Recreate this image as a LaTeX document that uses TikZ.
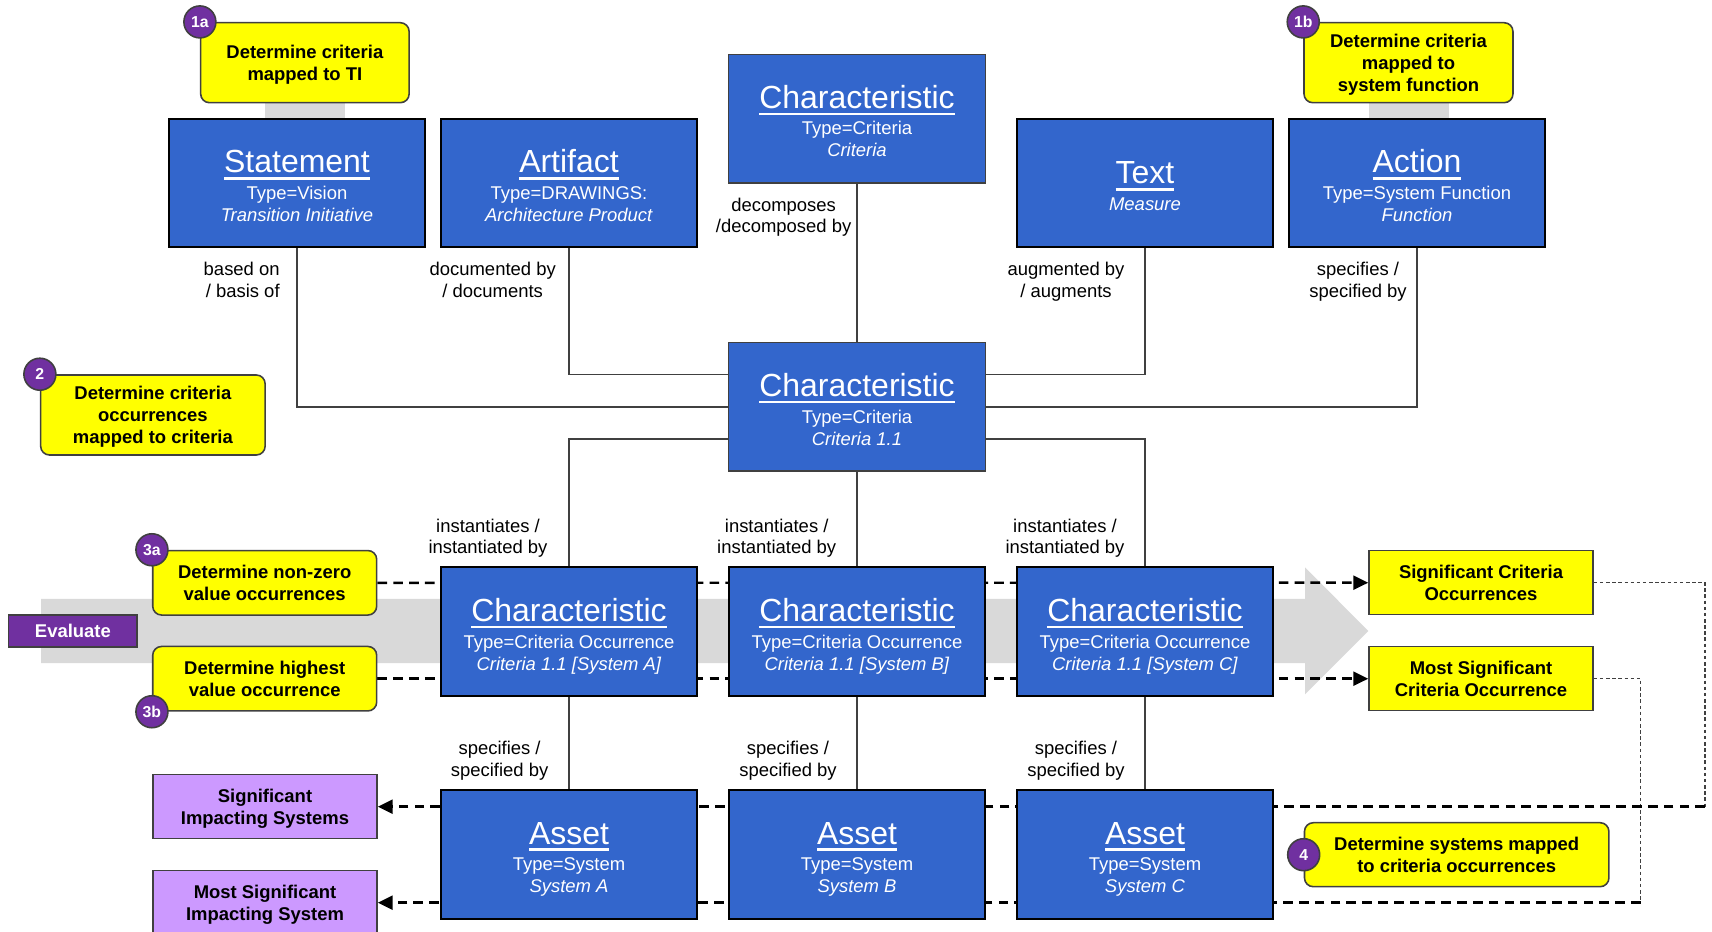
\documentclass[tikz,border=0pt]{standalone}
\usepackage{fontspec}
\setmainfont{Liberation Sans}
\usepackage{tikz}
\usetikzlibrary{calc,arrows.meta,backgrounds}

\definecolor{entblue}{HTML}{3366CC}
\definecolor{noteyellow}{HTML}{FFFF00}
\definecolor{stepviolet}{HTML}{7030A0}
\definecolor{sysviolet}{HTML}{CC99FF}
\definecolor{bandgrey}{HTML}{D9D9D9}
\definecolor{linegrey}{HTML}{404040}

\newcommand{\titleline}[1]{\setbox0=\hbox{#1}\rlap{\vrule width\wd0 height-2.4pt depth3.9pt}\box0}
\newcommand{\enttitle}[1]{{\fontsize{18.2}{20}\selectfont\rule{0pt}{16pt}\titleline{#1}}}
\newcommand{\enttext}[3]{\enttitle{#1}\\[2.6pt]#2\\\textit{#3}}

\tikzset{
  entity/.style={draw=black, line width=1.1pt, fill=entblue, text=white, minimum width=5.13cm, minimum height=2.57cm, align=center, inner sep=0pt, text depth=0pt, font=\fontsize{10.5}{12.5}\selectfont},
  critbox/.style={entity, draw=linegrey, line width=0.8pt},
  note/.style={draw=linegrey, line width=0.9pt, fill=noteyellow, rounded corners=5pt, align=center, inner sep=0pt, text depth=0pt, font=\fontsize{10.5}{12.5}\selectfont\bfseries},
  badge/.style={circle, draw=linegrey, line width=0.9pt, fill=stepviolet, text=white, minimum size=0.64cm, inner sep=0pt, font=\fontsize{9}{10}\selectfont\bfseries},
  result/.style={draw=linegrey, line width=0.9pt, fill=noteyellow, minimum width=4.48cm, minimum height=1.28cm, align=center, inner sep=0pt, text depth=0pt, font=\fontsize{10.5}{12.5}\selectfont\bfseries},
  impact/.style={result, fill=sysviolet},
  evalbox/.style={draw=linegrey, line width=0.9pt, fill=stepviolet, text=white, minimum width=2.57cm, minimum height=0.64cm, inner sep=0pt, font=\fontsize{10.5}{12.5}\selectfont\bfseries},
  rel/.style={align=center, inner sep=0pt, font=\fontsize{10.5}{12.5}\selectfont},
  link/.style={draw=linegrey, line width=0.85pt},
  flow/.style={draw=black, line width=1.4pt, dash pattern=on 5.5pt off 3.5pt},
  flowarrow/.style={flow, -{Triangle[length=8.5pt,width=8pt]}},
  trace/.style={draw=linegrey, line width=0.6pt, dash pattern=on 2pt off 1.5pt}
}

\begin{document}
\begin{tikzpicture}[x=0.02cm, y=-0.02cm]
    \useasboundingbox (0,0) rectangle (1712,932);

    % Upper entities
    \node [entity] (stmt) at (297,183) {\enttext{Statement}{Type=Vision}{Transition Initiative}};
    \node [entity] (artifact) at (569,183) {\enttext{Artifact}{Type=DRAWINGS:}{Architecture Product}};
    \node [critbox] (critop) at (857,118.6) {\enttext{Characteristic}{Type=Criteria}{Criteria}};
    \node [entity] (text) at (1145,183) {\enttitle{Text}\\[2.6pt]\textit{Measure}};
    \node [entity] (action) at (1417,183) {\enttext{Action}{Type=System Function}{Function}};

    % Criteria
    \node [critbox] (crit) at (857,406.8) {\enttext{Characteristic}{Type=Criteria}{Criteria 1.1}};

    % Occurrences
    \node [entity] (occA) at (569,631.7) {\enttext{Characteristic}{Type=Criteria Occurrence}{Criteria 1.1 [System A]}};
    \node [entity] (occB) at (857,631.7) {\enttext{Characteristic}{Type=Criteria Occurrence}{Criteria 1.1 [System B]}};
    \node [entity] (occC) at (1145,631.7) {\enttext{Characteristic}{Type=Criteria Occurrence}{Criteria 1.1 [System C]}};

    % Assets
    \node [entity] (assetA) at (569,854.3) {\enttext{Asset}{Type=System}{System A}};
    \node [entity] (assetB) at (857,854.3) {\enttext{Asset}{Type=System}{System B}};
    \node [entity] (assetC) at (1145,854.3) {\enttext{Asset}{Type=System}{System C}};

    % Relation labels
    \node [rel, align=right, anchor=north east] (lbased) at (280,262) {based on\\/ basis of};
    \node [rel, anchor=north] (ldoc) at (492.7,262) {documented by\\/ documents};
    \node [rel, anchor=north] (ldecomp) at (783.6,197.3) {decomposes\\/decomposed by};
    \node [rel, anchor=north] (laug) at (1066,262) {augmented by\\/ augments};
    \node [rel, anchor=north] (lspec) at (1358,262) {specifies /\\specified by};
    \node [rel, anchor=north] (linstA) at (488,518.3) {instantiates /\\instantiated by};
    \node [rel, anchor=north] (linstB) at (776.7,518.3) {instantiates /\\instantiated by};
    \node [rel, anchor=north] (linstC) at (1065,518.3) {instantiates /\\instantiated by};
    \node [rel, anchor=north] (lspecA) at (499.6,741) {specifies /\\specified by};
    \node [rel, anchor=north] (lspecB) at (788,741) {specifies /\\specified by};
    \node [rel, anchor=north] (lspecC) at (1076,741) {specifies /\\specified by};

    % Steps
    \node [note, minimum width=4.17cm, minimum height=1.6cm] (n1a) at (304.9,62.7) {Determine criteria\\mapped to TI};
    \node [note, minimum width=4.18cm, minimum height=1.6cm] (n1b) at (1408.5,62.7) {Determine criteria\\mapped to\\system function};
    \node [note, minimum width=4.49cm, minimum height=1.6cm] (n2) at (152.9,415) {Determine criteria\\occurrences\\mapped to criteria};
    \node [note, minimum width=4.48cm, minimum height=1.29cm] (n3a) at (264.7,582.8) {Determine non-zero\\value occurrences};
    \node [note, minimum width=4.48cm, minimum height=1.29cm] (n3b) at (264.7,678.7) {Determine highest\\value occurrence};
    \node [note, minimum width=6.09cm, minimum height=1.28cm] (n4) at (1456.7,854.7) {Determine systems mapped\\to criteria occurrences};
    \node [badge] (b1a) at (n1a.north west) {1a};
    \node [badge] (b1b) at (n1b.north west) {1b};
    \node [badge] (b2) at (n2.north west) {2};
    \node [badge] (b3a) at (n3a.north west) {3a};
    \node [badge] (b3b) at (n3b.south west) {3b};
    \node [badge] (b4) at (n4.west) {4};
    \node [evalbox] (eval) at (72.9,631) {Evaluate};

    % Results
    \node [result] (sigocc) at (1481,582.7) {Significant Criteria\\Occurrences};
    \node [result] (mostocc) at (1481,678.7) {Most Significant\\Criteria Occurrence};
    \node [impact] (sigsys) at (265,806.7) {Significant\\Impacting Systems};
    \node [impact] (mostsys) at (265,902.7) {Most Significant\\Impacting System};
    \coordinate (sigbend) at (1705,806.7);
    \coordinate (mostbend) at (1640.7,902.7);

    \begin{scope}[on background layer]
        % Evaluate band
        \fill [bandgrey] (41,599) -- (1305,599) -- (1305,567.3) -- (1368.3,631) -- (1305,694.3) -- (1305,663) -- (41,663) -- cycle;
        \fill [bandgrey] ($(n1a.south)+(-40,0)$) rectangle ($(n1a.south)+(40,15.6)$);
        \fill [bandgrey] ($(n1b.south)+(-40,0)$) rectangle ($(n1b.south)+(40,15.6)$);

        % Relations
        \draw [link] (stmt.south) |- (crit.west);
        \draw [link] (artifact.south) |- ($(crit.west)+(0,-32.5)$);
        \draw [link] (critop.south) -- (crit.north);
        \draw [link] (text.south) |- ($(crit.east)+(0,-32.5)$);
        \draw [link] (action.south) |- (crit.east);
        \draw [link] ($(crit.west)+(0,32)$) -| (occA.north);
        \draw [link] (crit.south) -- (occB.north);
        \draw [link] ($(crit.east)+(0,32)$) -| (occC.north);
        \draw [link] (occA.south) -- (assetA.north);
        \draw [link] (occB.south) -- (assetB.north);
        \draw [link] (occC.south) -- (assetC.north);

        % Evaluation flows
        \draw [flowarrow] (n3a.east) -- (sigocc.west);
        \draw [flowarrow] (n3b.east) -- (mostocc.west);
        \draw [trace] (sigocc.east) -| (sigbend);
        \draw [trace] (mostocc.east) -| (mostbend);
        \draw [flowarrow] (sigbend) -- (sigsys.east);
        \draw [flowarrow] (mostbend) -- (mostsys.east);
    \end{scope}
\end{tikzpicture}
\end{document}
